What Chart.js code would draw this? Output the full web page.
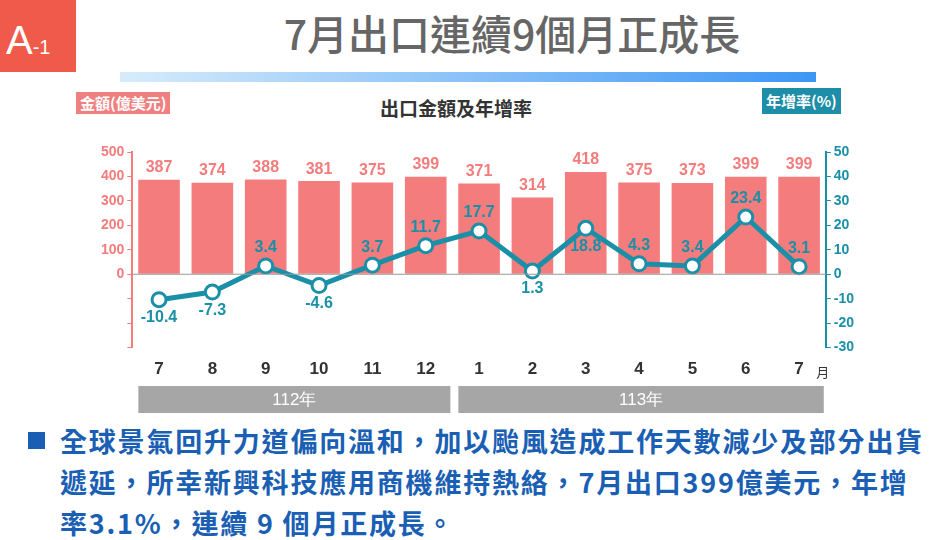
<!DOCTYPE html>
<html><head><meta charset="utf-8">
<script src="https://cdn.jsdelivr.net/npm/chart.js@4"></script>
<style>
body{margin:0;width:948px;height:540px;background:#fff;position:relative;overflow:hidden;font-family:"Noto Sans CJK TC",sans-serif}
#tag{position:absolute;left:0;top:0;width:76px;height:72px;background:#f05a4a;color:#fff;font:40px "Liberation Sans","Noto Sans CJK TC";line-height:80px;padding-left:6px;box-sizing:border-box}
#tag small{font-size:20px}
#title{position:absolute;left:162px;width:700px;top:2px;text-align:center;font-size:41px;color:#666;font-weight:500}
#bar{position:absolute;left:120px;top:72px;width:696px;height:10px;background:linear-gradient(90deg,#d6ecfb,#3d96f5)}
#ll{position:absolute;left:76px;top:92px;background:#f08080;color:#fff;font-size:15px;font-weight:bold;padding:0 4px;line-height:22px}
#rl{position:absolute;left:762px;top:88px;background:#1e8ea8;color:#fff;font-size:15px;font-weight:bold;padding:0 4px;line-height:26px}
#ct{position:absolute;left:380px;top:94px;font-size:19px;font-weight:bold;color:#333}
#box{position:absolute;left:0;top:135px;width:948px;height:280px}
#txt{position:absolute;left:28px;top:420px;width:930px;font-size:27px;letter-spacing:1.8px;font-weight:bold;color:#1a5fb4;line-height:41px;white-space:nowrap}
#txt .sq{position:absolute;left:0;top:12px;width:17px;height:17px;background:#1a5fb4}
#txt p{margin:0 0 0 32px}
</style></head><body>
<div id="tag">A<small>-1</small></div>
<div id="title">7月出口連續9個月正成長</div>
<div id="bar"></div>
<div id="ll">金額(億美元)</div>
<div id="ct">出口金額及年增率</div>
<div id="rl">年增率(%)</div>
<div id="box"><canvas id="c"></canvas></div>
<div id="txt"><span class="sq"></span><p>全球景氣回升力道偏向溫和，加以颱風造成工作天數減少及部分出貨<br>遞延，所幸新興科技應用商機維持熱絡，7月出口399億美元，年增<br>率3.1%，連續 9 個月正成長。</p></div>
<script>
const months = ['7','8','9','10','11','12','1','2','3','4','5','6','7'];
const years = [{label:'112年', from:0, to:5}, {label:'113年', from:6, to:12}];
const amounts = [387,374,388,381,375,399,371,314,418,375,373,399,399];
const growth = [-10.4,-7.3,3.4,-4.6,3.7,11.7,17.7,1.3,18.8,4.3,3.4,23.4,3.1];
const growthBelow = [true,true,false,true,false,false,false,true,true,false,false,false,false];

const pink = '#f47c7c', teal = '#1a8fa8', fnt = '"Liberation Sans",sans-serif';

const extras = {
    id: 'extras',
    afterDatasetsDraw(chart) {
        const ctx = chart.ctx, x = chart.scales.x, yl = chart.scales.y, a = chart.chartArea;
        ctx.save();
        ctx.strokeStyle = '#999'; ctx.lineWidth = 1;
        ctx.beginPath(); ctx.moveTo(a.left, yl.getPixelForValue(0)); ctx.lineTo(a.right, yl.getPixelForValue(0)); ctx.stroke();
        ctx.font = 'bold 16px ' + fnt; ctx.textAlign = 'center';
        const bars = chart.getDatasetMeta(0).data, pts = chart.getDatasetMeta(1).data;
        ctx.fillStyle = pink; ctx.textBaseline = 'bottom';
        amounts.forEach((v, i) => ctx.fillText(v, bars[i].x, bars[i].y - 4));
        ctx.fillStyle = teal;
        growth.forEach((v, i) => {
            ctx.textBaseline = growthBelow[i] ? 'top' : 'bottom';
            ctx.fillText(v.toFixed(1), pts[i].x, pts[i].y + (growthBelow[i] ? 10 : -10));
        });
        ctx.fillStyle = '#333'; ctx.font = '13px "Noto Sans CJK TC"'; ctx.textBaseline = 'middle';
        ctx.fillText('月', a.right - 3, x.bottom - 12);
        const half = (x.getPixelForValue(1) - x.getPixelForValue(0)) / 2;
        years.forEach(yr => {
            const l = x.getPixelForValue(yr.from) - half + 6, r = x.getPixelForValue(yr.to) + half - 2;
            ctx.fillStyle = '#a6a6a6'; ctx.fillRect(l, x.bottom + 2, r - l, 27);
            ctx.fillStyle = '#fff'; ctx.font = '17px ' + fnt;
            ctx.fillText(yr.label, (l + r) / 2, x.bottom + 16);
        });
        ctx.restore();
    }
};

new Chart(document.getElementById('c'), {
    data: {
        labels: months,
        datasets: [{
            type: 'bar', data: amounts, yAxisID: 'y', backgroundColor: pink,
            barPercentage: 0.78, categoryPercentage: 1, order: 2
        }, {
            type: 'line', data: growth, yAxisID: 'y1', borderColor: teal, borderWidth: 5,
            pointRadius: 7, pointBackgroundColor: '#fff', pointBorderColor: teal, pointBorderWidth: 3,
            order: 1
        }]
    },
    options: {
        responsive: true, maintainAspectRatio: false, animation: false,
        layout: { padding: { left: 98, right: 91, top: 17, bottom: 31 } },
        plugins: { legend: { display: false }, tooltip: { enabled: false } },
        scales: {
            x: {
                grid: { display: false }, border: { display: false },
                ticks: { color: '#333', font: { size: 17, family: fnt, weight: 'bold' }, padding: 4 }
            },
            y: {
                position: 'left', min: -300, max: 500,
                grid: { drawOnChartArea: false, color: pink, tickLength: 5 },
                border: { color: pink, width: 2 },
                ticks: { stepSize: 100, color: pink, font: { size: 14, family: fnt, weight: 'bold' },
                    callback: v => v >= 0 ? v : '' }
            },
            y1: {
                position: 'right', min: -30, max: 50,
                grid: { drawOnChartArea: false, color: teal, tickLength: 5 },
                border: { color: teal, width: 2 },
                ticks: { stepSize: 10, color: teal, font: { size: 14, family: fnt, weight: 'bold' } }
            }
        }
    },
    plugins: [extras]
});
</script>
</body></html>
